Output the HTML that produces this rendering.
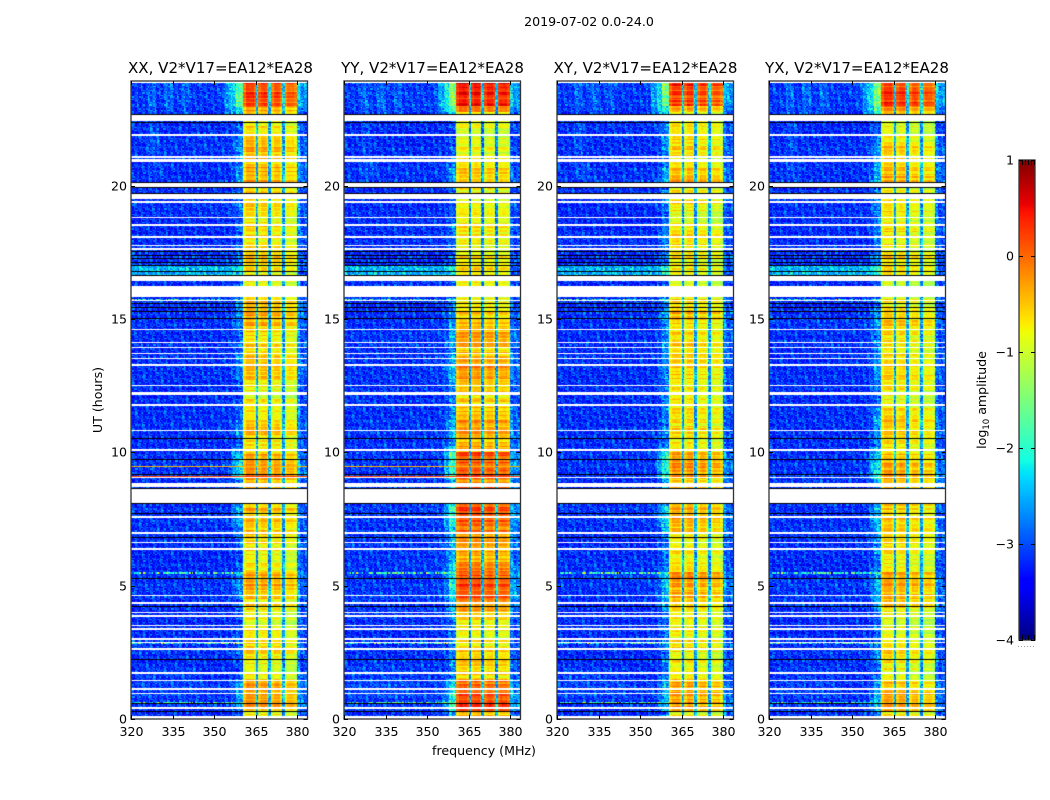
<!DOCTYPE html>
<html lang="en">
<head>
<meta charset="utf-8">
<title>2019-07-02 0.0-24.0</title>
<style>
html,body{margin:0;padding:0;background:#fff;}
#figure{position:relative;width:1050px;height:800px;overflow:hidden;background:#fff;}
#figure canvas{position:absolute;display:block;}
#overlay{position:absolute;left:0;top:0;}
text{font-family:"DejaVu Sans","Liberation Sans",sans-serif;fill:#000;}
</style>
</head>
<body>
<div id="figure">
<svg id="overlay" width="1050" height="800" viewBox="0 0 1050 800">
  <text x="589" y="26" text-anchor="middle" font-size="12.6">2019-07-02 0.0-24.0</text>
  <text x="220.5" y="73" text-anchor="middle" font-size="15.05">XX, V2*V17=EA12*EA28</text>
  <text x="432.5" y="73" text-anchor="middle" font-size="15.05">YY, V2*V17=EA12*EA28</text>
  <text x="645.5" y="73" text-anchor="middle" font-size="15.05">XY, V2*V17=EA12*EA28</text>
  <text x="857" y="73" text-anchor="middle" font-size="15.05">YX, V2*V17=EA12*EA28</text>
  <text x="484" y="755" text-anchor="middle" font-size="12.6">frequency (MHz)</text>
  <text transform="translate(102,400) rotate(-90)" text-anchor="middle" font-size="12.6">UT (hours)</text>
  <text transform="translate(986,400) rotate(-90)" text-anchor="middle" font-size="12.6">log<tspan font-size="8.5" dy="3">10</tspan><tspan dy="-3"> amplitude</tspan></text>
</svg>
</div>
<script>
/* ---------- axis tick data ---------- */
const xTickValues = [320, 335, 350, 365, 380];
const yTickValues = [0, 5, 10, 15, 20];
const colorbarTickValues = [-4, -3, -2, -1, 0, 1];
const panelNames = ['xx', 'yy', 'xy', 'yx'];

/* ---------- spectrum: frequency edges (MHz) and log10 amplitude per segment ---------- */
const spectrumEdges = [320, 352, 356, 358, 360.5, 361.5, 364.3, 365, 365.9, 367, 369, 369.7, 370.5, 371.5, 374, 374.7, 375.5, 376.7, 379, 379.8, 381, 384];
const levelsXX = [-3.2, -3.2, -3.15, -3.05, -1.05, -0.75, -0.95, -2.6, -1.0, -0.8, -1.05, -2.6, -1.1, -0.85, -1.1, -2.65, -1.2, -1.0, -1.15, -2.75, -3.05];
const levelsYY = [-3.2, -3.2, -3.15, -3.0, -1.05, -0.85, -1.0, -2.75, -1.0, -0.85, -1.05, -2.75, -1.1, -0.9, -1.1, -2.75, -1.1, -0.95, -1.1, -3.0, -3.1];
const levelsXY = [-3.2, -3.2, -3.1, -2.9, -1.05, -0.8, -1.0, -2.65, -1.05, -0.8, -1.1, -2.65, -1.15, -0.9, -1.15, -2.65, -1.2, -1.0, -1.2, -2.85, -3.05];
const levelsYX = [-3.2, -3.2, -3.1, -2.9, -1.05, -0.8, -1.0, -2.65, -1.05, -0.85, -1.1, -2.65, -1.2, -0.95, -1.2, -2.65, -1.2, -1.05, -1.2, -2.9, -3.05];
const gainWeights = [0.08, 0.15, 0.4, 0.85, 1, 1, 1, 0.3, 1, 1, 1, 0.3, 1, 1, 1, 0.3, 1, 1, 1, 0.5, 0.4];

/* ---------- band gain read per quarter hour, 0h to 24h ---------- */
const gainXX = [0.1,0.5,0.5,0.4, 0.5,0.4,0.1,0.05, 0.1,0.15,0.25,0.15, 0.05,0.05,-0.05,0.05, 0.15,0.2,0.3,0.3, 0.45,0.45,0.2,0.1, 0.1,0.15,0.1,0.2, 0.25,0.3,0.35,0.4, 0.3,0.3,0.3,0.35, 0.5,0.55,0.5,0.45, 0.2,0.15,0.3,0.35, 0.1,0.05,0.05,0.1, 0,0.1,0.15,0.3, 0.25,0.3,0.2,0.2, 0.2,0.25,0.3,0.4, 0.45,0.4,0.25,0.15, 0.1,0.05,0.1,0.15, 0.15,0.2,0.1,0.15, 0.25,0.3,0.1,0.05, 0.2,0.25,0.15,0.15, 0.45,0.5,0.5,0.3, 0.3,0.4,0.35,0.15, 0.2,0.15,0.1,0.6, 0.95,0.95,0.9,1.0];
const gainYY = [0.4,1.05,1.1,1.05, 1.05,0.85,0.3,0.25, 0.25,0.25,0.3,0.25, 0.2,0.15,0.2,0.25, 0.55,0.75,0.95,1.05, 1.1,1.05,0.85,0.6, 0.4,0.5,0.6,0.7, 0.85,1.0,1.1,1.05, 0.8,0.8,0.8,0.8, 1.05,1.1,1.05,1.0, 0.5,0.35,0.5,0.6, 0.6,0.55,0.45,0.3, 0.2,0.25,0.4,0.55, 0.7,0.65,0.45,0.4, 0.5,0.5,0.45,0.35, 0.4,0.35,0.2,0.1, 0.05,0.05,0.15,0.2, 0.15,0.2,0.05,0.15, 0.2,0.25,0.05,0.05, 0.15,0.15,0.05,0.05, 0.25,0.3,0.25,0.15, 0.1,0.15,0.15,0.05, 0.0,0.0,0.3,0.8, 1.25,1.3,1.4,1.5];
const gainXY = [0.1,0.55,0.6,0.5, 0.5,0.4,0.1,0.05, 0.1,0.1,0.2,0.15, 0.1,0.05,0,0.05, 0.3,0.4,0.45,0.5, 0.5,0.5,0.2,0.1, 0.15,0.2,0.15,0.2, 0.3,0.35,0.4,0.4, 0.3,0.3,0.3,0.35, 0.55,0.6,0.55,0.45, 0.2,0.1,0.25,0.3, 0.15,0.1,0.1,0.1, 0.05,0.1,0.2,0.3, 0.25,0.3,0.2,0.2, 0.2,0.2,0.25,0.3, 0.35,0.3,0.2,0.1, 0.05,0,0.1,0.15, 0.15,0.2,0.05,0.15, 0.2,0.25,0.05,0, 0.15,0.2,0.1,0.1, 0.4,0.45,0.35,0.25, 0.2,0.25,0.2,0.1, 0.1,0.1,0.15,0.6, 1.05,1.05,1.0,1.1];
const gainYX = [0.15,0.55,0.55,0.45, 0.45,0.35,0.1,0.05, 0.15,0.2,0.25,0.15, 0.1,0.05,0,0.05, 0.2,0.3,0.4,0.45, 0.5,0.5,0.25,0.15, 0.1,0.15,0.15,0.25, 0.3,0.35,0.35,0.35, 0.3,0.3,0.3,0.35, 0.55,0.6,0.5,0.45, 0.25,0.15,0.25,0.35, 0.3,0.3,0.2,0.15, 0.05,0.1,0.15,0.25, 0.2,0.25,0.2,0.15, 0.15,0.2,0.2,0.3, 0.3,0.25,0.15,0.1, 0.05,0,0.1,0.15, 0.15,0.2,0.05,0.15, 0.15,0.25,0.05,0, 0.15,0.15,0.1,0.1, 0.45,0.5,0.35,0.25, 0.25,0.35,0.25,0.1, 0.1,0.1,0.2,0.65, 1.1,1.1,1.05,1.15];

/* ---------- flagged (white) spans and single rows, in hours ---------- */
const flagStarts = [23.86,22.42,21.87,21.04,20.90,19.95,19.50,19.36,18.77,18.50,18.05,17.72,17.60,16.42,15.82,15.66,14.57,14.09,13.90,13.67,13.48,13.25,12.47,12.20,12.13,11.75,10.79,10.05,9.02,8.70,8.11,7.55,6.95,6.58,6.35,4.60,4.33,3.97,3.84,3.47,3.35,2.98,2.84,2.60,1.70,1.42,1.10,0.92,0.39,0];
const flagEnds   = [24.00,22.65,21.92,21.11,20.98,20.10,19.69,19.41,18.82,18.55,18.10,17.79,17.65,16.61,16.24,15.71,14.62,14.14,13.95,13.72,13.53,13.30,12.52,12.25,12.18,11.80,10.84,10.12,9.07,8.85,8.66,7.60,7.00,6.63,6.40,4.65,4.38,4.02,3.89,3.52,3.40,3.03,2.89,2.65,1.75,1.47,1.15,0.97,0.44,0.12];

/* ---------- dark (zero amplitude) rows, in hours ---------- */
const darkHours = [22.68,22.40,20.13,19.93,19.73,17.56,17.40,17.29,17.14,17.02,16.80,16.65,15.60,15.46,15.31,15.04,10.54,9.75,9.19,8.66,8.11,7.72,6.84,5.29,4.24,2.25,0.60,0.30];

/* ---------- interference rows: hour, level, and whether each panel shows them ---------- */
const rfiHours = [9.50, 9.12];
const rfiLevels = [-0.4, 0.25];
const rfiVisible = [1, 1, 0, 0];
const speckledHours = [15.74, 18.52, 5.47, 2.82, 0.62];

/* ---------- isolated vertical streaks ---------- */
const streakPanel = [0, 1, 2, 3, 1];
const streakMhz = [322, 322, 321.5, 321.5, 340];
const streakHourStart = [23.4, 23.4, 23.4, 23.4, 0.1];
const streakHourEnd = [23.85, 23.85, 23.85, 23.85, 23.85];
const streakLevel = [-1.6, -1.8, -1.8, -1.6, -2.5];

/* ---------- broad background patches: hour range, MHz range, delta ---------- */
const patchHourStart = [16.65, 22.7, 22.7, 22.7, 20.2, 21.2, 0.8, 9.0, 7.2, 22.7];
const patchHourEnd   = [17.0,  23.85, 23.85, 23.85, 21.0, 22.4, 2.0, 10.2, 8.0, 23.85];
const patchMhzStart  = [320,   326,  332,  338,  326,  326,  322,  356, 356, 354];
const patchMhzEnd    = [360.5, 329,  335,  341,  332,  330,  345,  360.5, 360.5, 360.5];
const patchDelta     = [0.7,   0.25, 0.25, 0.2,  0.15, 0.18, 0.1,  0.3, 0.2, 0.45];

/* ---------- hand-typed fine texture (approximation of row striping and pixel speckle) ---------- */
const rowStripe = [0.18,-0.12,0.05,-0.22,0.25,0.02,-0.15,0.1,-0.28,0.2,0.12,-0.08,-0.2,0.28,-0.05,0.08,-0.18,0.15,-0.25,0.03,0.22,-0.1,0.06,-0.16,0.24,-0.02,-0.24,0.14,0.09,-0.14,0.2,-0.06,0.01,-0.2,0.26,-0.11,0.07,0.16,-0.26,0.11,-0.03];
const speckle = [-0.31,0.22,-0.08,0.41,-0.27,0.05,-0.44,0.33,0.12,-0.19,0.52,-0.36,-0.02,0.18,-0.24,0.09,0.37,-0.41,0.26,-0.13,-0.33,0.46,0.03,-0.22,0.15,-0.38,0.29,-0.06,0.58,-0.29,0.07,-0.17,0.34,-0.47,0.11,0.24,-0.1,-0.35,0.43,-0.04,0.19,-0.26,0.31,-0.4,0.01,0.48,-0.21,-0.12,0.27,-0.32,0.08,0.39,-0.45,0.16,-0.07,0.21,-0.28,0.55,-0.15,-0.37,0.04,0.3,-0.23,0.13,-0.42,0.36,-0.01,-0.18,0.25,0.62,-0.34,0.1,-0.25,0.17,-0.39,0.44,-0.09,0.06,-0.3,0.28,-0.16,0.35,-0.43,0.02,0.2,-0.2,0.5,-0.11,-0.36,0.14,0.32,-0.05,-0.46,0.23,-0.14,0.4,-0.03];

const panelLevels = [levelsXX, levelsYY, levelsXY, levelsYX];
const panelGains = [gainXX, gainYY, gainXY, gainYX];

/* ---------- layout and scales ---------- */
const panelLefts = [131, 344, 556.5, 769];
const panelWidth = 177, plotTop = 81, plotBottom = 719;
const SVGNS = 'http://www.w3.org/2000/svg';
const figure = document.getElementById('figure');
const overlay = document.getElementById('overlay');

function xScale(mhz) { return (mhz - 320) * (panelWidth / 63.95); }
function yScale(hour) { return plotBottom - hour * ((plotBottom - plotTop) / 23.92); }
function cbScale(v) { return 640 - (v + 4) * 96; }

function interp(stops, t) {
  for (let i = 1; i < stops.length; i++) {
    if (t <= stops[i][0]) {
      const a = stops[i - 1], b = stops[i];
      return a[1] + (b[1] - a[1]) * (t - a[0]) / (b[0] - a[0]);
    }
  }
  return stops[stops.length - 1][1];
}
const jetR = [[0,0],[0.35,0],[0.66,1],[0.89,1],[1,0.5]];
const jetG = [[0,0],[0.125,0],[0.375,1],[0.64,1],[0.91,0],[1,0]];
const jetB = [[0,0.5],[0.11,1],[0.34,1],[0.65,0],[1,0]];
function jet(v) {
  const t = Math.max(0, Math.min(1, (v + 4) / 5));
  return 'rgb(' + Math.round(255 * interp(jetR, t)) + ',' + Math.round(255 * interp(jetG, t)) + ',' + Math.round(255 * interp(jetB, t)) + ')';
}

function segmentIndex(mhz) {
  for (let i = 0; i < spectrumEdges.length - 1; i++) {
    if (mhz < spectrumEdges[i + 1]) return i;
  }
  return spectrumEdges.length - 2;
}

function cellValue(panel, row, chan, hour, mhz) {
  const seg = segmentIndex(mhz);
  const w = gainWeights[seg];
  const gains = panelGains[panel];
  const g = gains[Math.min(gains.length - 1, Math.floor(hour / 0.25))];
  const stripe = rowStripe[(row * 3 + panel * 7) % rowStripe.length];
  const sp = speckle[(row * 31 + chan * 17 + panel * 11) % speckle.length];
  let v = panelLevels[panel][seg] + w * g + (w > 0.5 ? w * stripe : 0.25 * stripe);
  v += sp * (w > 0.9 ? 0.2 : 1.0);
  for (let i = 0; i < patchDelta.length; i++) {
    if (hour >= patchHourStart[i] && hour < patchHourEnd[i] && mhz >= patchMhzStart[i] && mhz < patchMhzEnd[i]) v += patchDelta[i];
  }
  for (let i = 0; i < streakMhz.length; i++) {
    if (streakPanel[i] === panel && hour >= streakHourStart[i] && hour < streakHourEnd[i] && Math.abs(mhz - streakMhz[i]) < 0.25) v = Math.max(v, streakLevel[i]);
  }
  return v;
}

function drawPanel(panel) {
  const canvas = document.createElement('canvas');
  
  
  canvas.width = panelWidth;
  canvas.height = plotBottom - plotTop;
  canvas.style.left = Math.round(panelLefts[panel]) + 'px';
  canvas.style.top = plotTop + 'px';
  figure.insertBefore(canvas, overlay);
  const ctx = canvas.getContext('2d');
  const rowStep = 0.05, chanStep = 0.5;
  const nRows = Math.round(24 / rowStep), nChans = Math.round(64 / chanStep);
  for (let r = 0; r < nRows; r++) {
    const hour = (r + 0.5) * rowStep;
    const y0 = Math.round(yScale(r * rowStep + rowStep)) - plotTop;
    const y1 = Math.round(yScale(r * rowStep)) - plotTop;
    if (y1 <= y0) continue;
    let boost = 0;
    for (let k = 0; k < speckledHours.length; k++) {
      if (Math.abs(hour - speckledHours[k]) < rowStep / 2) boost = 1;
    }
    for (let c = 0; c < nChans; c++) {
      const mhz = 320 + (c + 0.5) * chanStep;
      const x0 = Math.round(xScale(320 + c * chanStep));
      const x1 = Math.round(xScale(320 + (c + 1) * chanStep));
      let v = cellValue(panel, r, c, hour, mhz);
      if (boost && mhz < 360.5) v += 0.8 + 2.2 * speckle[(r + c * 5) % speckle.length];
      ctx.fillStyle = jet(v);
      ctx.fillRect(x0, y0, x1 - x0, y1 - y0);
    }
  }
  if (rfiVisible[panel]) {
    for (let i = 0; i < rfiHours.length; i++) {
      ctx.fillStyle = jet(rfiLevels[i]);
      ctx.fillRect(0, Math.round(yScale(rfiHours[i])) - plotTop, panelWidth, 1);
    }
  }
  ctx.fillStyle = '#fff';
  for (let i = 0; i < flagStarts.length; i++) {
    const y0 = Math.round(yScale(flagEnds[i])) - plotTop;
    const y1 = Math.round(yScale(flagStarts[i])) - plotTop;
    ctx.fillRect(0, y0, panelWidth, Math.max(1, y1 - y0));
  }
  ctx.fillStyle = '#000';
  for (let i = 0; i < darkHours.length; i++) {
    ctx.fillRect(0, Math.round(yScale(darkHours[i])) - plotTop, panelWidth, 1);
  }
}

function line(x1, y1, x2, y2, name, stroke, width) {
  const el = document.createElementNS(SVGNS, 'line');
  el.setAttribute('x1', x1);
  el.setAttribute('y1', y1);
  el.setAttribute('x2', x2);
  el.setAttribute('y2', y2);
  el.setAttribute('stroke', stroke || '#000');
  el.setAttribute('stroke-width', width || 1);
  
  
  overlay.appendChild(el);
}

function label(x, y, str, anchor, name) {
  const el = document.createElementNS(SVGNS, 'text');
  el.setAttribute('x', x);
  el.setAttribute('y', y);
  el.setAttribute('text-anchor', anchor);
  el.setAttribute('font-size', '12.6');
  
  
  el.textContent = str;
  overlay.appendChild(el);
}

function drawAxes(panel) {
  const left = Math.round(panelLefts[panel]);
  const right = left + panelWidth - 0.5;
  const frame = document.createElementNS(SVGNS, 'rect');
  frame.setAttribute('x', left);
  frame.setAttribute('y', plotTop);
  frame.setAttribute('width', panelWidth - 0.5);
  frame.setAttribute('height', plotBottom - plotTop);
  frame.setAttribute('fill', 'none');
  frame.setAttribute('stroke', '#333');
  frame.setAttribute('stroke-width', '1.3');
  
  
  overlay.appendChild(frame);
  xTickValues.forEach(function (t) {
    const x = Math.round(left + xScale(t)) + 0.5;
    line(x, plotBottom, x, plotBottom - 4, 'x-tick-bottom');
    line(x, plotTop, x, plotTop + 4, 'x-tick-top');
    label(x, plotBottom + 17, String(t), 'middle', 'x-tick-label');
  });
  yTickValues.forEach(function (t) {
    const y = Math.round(yScale(t)) + 0.5;
    line(left, y, left + 4, y, 'y-tick-left');
    line(right, y, right - 4, y, 'y-tick-right');
    label(left - 4, y + 4, String(t), 'end', 'y-tick-label');
  });
}

function drawColorbar() {
  const canvas = document.createElement('canvas');
  
  
  canvas.width = 16;
  canvas.height = 480;
  canvas.style.left = '1019px';
  canvas.style.top = '160px';
  figure.insertBefore(canvas, overlay);
  const ctx = canvas.getContext('2d');
  for (let y = 0; y < 480; y++) {
    const v = 1 - (y + 0.5) / 96;
    ctx.fillStyle = jet(v);
    ctx.fillRect(0, y, 16, 1);
  }
  const frame = document.createElementNS(SVGNS, 'rect');
  frame.setAttribute('x', 1019);
  frame.setAttribute('y', 160);
  frame.setAttribute('width', 16);
  frame.setAttribute('height', 480);
  frame.setAttribute('fill', 'none');
  frame.setAttribute('stroke', '#333');
  frame.setAttribute('stroke-width', '1.3');
  
  
  overlay.appendChild(frame);
  colorbarTickValues.forEach(function (t) {
    const y = Math.round(cbScale(t)) + 0.5;
    line(1019, y, 1023, y, 'colorbar-tick-left');
    line(1035, y, 1031, y, 'colorbar-tick-right');
    label(1014, y + 4, (t < 0 ? '\u2212' + (-t) : String(t)), 'end', 'colorbar-tick-label');
  });
  [1022, 1025, 1028, 1031, 1034].forEach(function (x) {
    line(x + 0.5, 160, x + 0.5, 165, 'colorbar-minor-tick-top');
    line(x + 0.5, 640, x + 0.5, 635, 'colorbar-minor-tick-bottom');
  });
  [1018, 1021, 1024, 1027, 1030, 1033].forEach(function (x) {
    line(x, 646.5, x + 1, 646.5, 'colorbar-minor-label-dot', '#999', 1);
  });
}

panelNames.forEach(function (n, i) { drawPanel(i); drawAxes(i); });
drawColorbar();
</script>
</body>
</html>
